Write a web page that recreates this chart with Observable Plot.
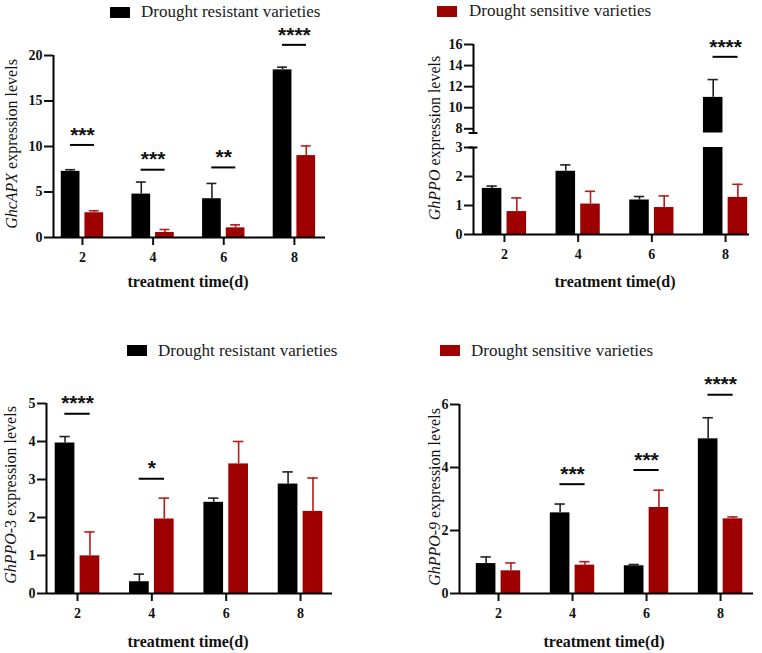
<!DOCTYPE html>
<html><head><meta charset="utf-8">
<script src="https://cdn.jsdelivr.net/npm/d3@7"></script>
<script src="https://cdn.jsdelivr.net/npm/@observablehq/plot@0.6"></script>
<style>
html,body{margin:0;padding:0;background:#fff;}
#root{position:relative;width:762px;height:653px;overflow:hidden;font-family:"Liberation Serif",serif;}
.panel{position:absolute;}
.panel svg{position:absolute;left:0;top:0;}
.legend{position:absolute;font-size:17px;color:#1a1a1a;white-space:nowrap;line-height:1;}
.sw{position:absolute;width:20px;height:11px;}
.panel svg g[aria-label^="x-axis"] line,.panel svg g[aria-label^="y-axis"] line,
.panel svg g[aria-label="x-axis tick"] path,.panel svg g[aria-label="y-axis tick"] path{stroke-width:2px;}
.panel svg g[aria-label^="x-axis"] text,.panel svg g[aria-label^="y-axis"] text{font-family:"Liberation Serif",serif !important;font-size:14px !important;font-weight:bold !important;fill:#111;}
</style></head>
<body><div id="root"></div>
<script>
const days = [2, 4, 6, 8];
const groups = ["Drought resistant varieties", "Drought sensitive varieties"];

// GhcAPX
const apxResistant = [7.27, 4.77, 4.26, 18.42];
const apxResistantErr = [0.18, 1.32, 1.68, 0.30];
const apxSensitive = [2.72, 0.55, 1.06, 9.0];
const apxSensitiveErr = [0.22, 0.33, 0.33, 1.06];
const apxSigDays = [2, 4, 6, 8];
const apxSigLevel = [10.17, 7.45, 7.7, 21.17];
const apxSigStars = ["***", "***", "**", "****"];

// GhPPO
const ppoResistant = [1.59, 2.18, 1.19, 10.98];
const ppoResistantErr = [0.08, 0.22, 0.12, 1.69];
const ppoSensitive = [0.79, 1.05, 0.93, 1.28];
const ppoSensitiveErr = [0.47, 0.44, 0.40, 0.45];
const ppoSigDays = [8];
const ppoSigLevel = [14.83];
const ppoSigStars = ["****"];

// GhPPO-3
const ppo3Resistant = [3.96, 0.31, 2.40, 2.88];
const ppo3ResistantErr = [0.17, 0.20, 0.11, 0.32];
const ppo3Sensitive = [0.99, 1.96, 3.41, 2.16];
const ppo3SensitiveErr = [0.63, 0.55, 0.59, 0.88];
const ppo3SigDays = [2, 4];
const ppo3SigLevel = [4.73, 3.02];
const ppo3SigStars = ["****", "*"];

// GhPPO-9
const ppo9Resistant = [0.95, 2.56, 0.88, 4.91];
const ppo9ResistantErr = [0.21, 0.28, 0.04, 0.67];
const ppo9Sensitive = [0.72, 0.90, 2.73, 2.37];
const ppo9SensitiveErr = [0.25, 0.11, 0.55, 0.06];
const ppo9SigDays = [4, 6, 8];
const ppo9SigLevel = [3.47, 3.92, 6.31];
const ppo9SigStars = ["***", "***", "****"];

const xTitle = "treatment time(d)";
const yTitleRest = " expression levels";

const COLORS = {res: "#000000", sen: "#9e0000"};
const ERRCOL = {res: "#222222", sen: "#b81c1c"};
const OFF = {res: [-0.6, -0.07], sen: [0.07, 0.6]};

const root = document.getElementById("root");

function drawPanel(c) {
  const rows = [];
  days.forEach((day, i) => {
    rows.push({day, g: "res", value: c.res[i], err: c.resErr[i]});
    rows.push({day, g: "sen", value: c.sen[i], err: c.senErr[i]});
  });
  const sig = c.sigDays.map((d, i) => ({day: d, y: c.sigLevel[i], stars: c.sigStars[i]}));
  const center = d => d.day + (OFF[d.g][0] + OFF[d.g][1]) / 2;
  const xmin = c.xDomain[0];
  const wrap = document.createElement("div");
  wrap.className = "panel";
  wrap.style.left = c.left + "px"; wrap.style.top = c.top + "px";
  wrap.style.width = c.width + "px"; wrap.style.height = c.height + "px";
  root.appendChild(wrap);

  c.parts.forEach((p, pi) => {
    const [lo, hi] = p.domain;
    const last = pi === c.parts.length - 1;
    const inside = v => v >= lo && v <= hi;
    const marks = [];
    for (const g of ["res", "sen"]) {
      const segs = rows.filter(r => r.g === g && r.value > lo)
        .map(r => ({...r, y1: lo, y2: Math.min(r.value, hi)}));
      marks.push(Plot.rect(segs, {
        x1: d => d.day + OFF[g][0], x2: d => d.day + OFF[g][1], y1: "y1", y2: "y2", fill: COLORS[g]
      }));
      const eg = rows.filter(r => r.g === g && inside(r.value + r.err));
      marks.push(Plot.ruleX(eg, {x: center, y1: d => Math.max(d.value, lo), y2: d => d.value + d.err, stroke: ERRCOL[g], strokeWidth: 1.6}));
      marks.push(Plot.ruleY(eg, {y: d => d.value + d.err, x1: d => center(d) - 0.14, x2: d => center(d) + 0.14, stroke: ERRCOL[g], strokeWidth: 1.6}));
    }
    if (lo === 0) marks.push(Plot.ruleY([0], {y: d => d, stroke: "#000", strokeWidth: 2}));
    marks.push(Plot.ruleX([p.domain], {x: () => xmin, y1: d => d[0], y2: d => d[1], stroke: "#000", strokeWidth: 2}));
    if (p.caps) marks.push(Plot.ruleY(p.caps, {y: d => d, x1: () => xmin - 0.12, x2: () => xmin + 0.12, stroke: "#000", strokeWidth: 2}));
    const sp = sig.filter(s => s.y >= lo && (pi === 0 || s.y <= hi));
    marks.push(Plot.ruleY(sp, {y: "y", x1: d => d.day - 0.34, x2: d => d.day + 0.34, stroke: "#000", strokeWidth: 2}));
    marks.push(Plot.text(sp, {x: "day", y: "y", text: "stars", dy: -10, fontSize: 21, fontWeight: "bold", fontFamily: "Liberation Sans", fill: "#111"}));

    const svg = Plot.plot({
      width: c.width, height: c.height,
      marginLeft: c.ml, marginRight: c.mr, marginTop: p.top, marginBottom: c.height - p.bottom,
      x: last
        ? {type: "linear", domain: c.xDomain, ticks: days, tickSize: 8, tickPadding: 7, label: null, tickFormat: d => String(d)}
        : {type: "linear", domain: c.xDomain, axis: null},
      y: {domain: p.domain, ticks: p.ticks, tickSize: 9, tickPadding: 2, label: null, tickFormat: d => String(d)},
      style: {fontFamily: "Liberation Serif", fontSize: "14px", fontWeight: "bold", color: "#111", background: "transparent", overflow: "visible"},
      marks
    });
    if (last) {
      const s = d3.select(svg);
      const yl = s.append("text")
        .attr("transform", `translate(${c.ylx},${c.yly}) rotate(-90)`)
        .attr("text-anchor", "middle")
        .style("font-family", "Liberation Serif").style("font-size", "16px").style("font-weight", "normal").attr("fill", "#111");
      yl.append("tspan").style("font-style", "italic").text(c.gene);
      if (c.geneSuffix) yl.append("tspan").text(c.geneSuffix);
      yl.append("tspan").text(yTitleRest);
      s.append("text").attr("x", c.xlx).attr("y", c.xly).attr("text-anchor", "middle")
        .style("font-family", "Liberation Serif").style("font-size", "16px").style("font-weight", "bold").attr("fill", "#111")
        .text(xTitle);
    }
    wrap.appendChild(svg);
  });

  const lg = document.createElement("div");
  lg.className = "legend";
  lg.style.left = c.legend.x + "px"; lg.style.top = c.legend.y + "px";
  const sw = document.createElement("span");
  sw.className = "sw"; sw.style.left = "0px"; sw.style.top = c.legend.swTop + "px";
  sw.style.background = c.legend.color;
  const tx = document.createElement("span");
  tx.style.position = "absolute"; tx.style.left = c.legend.textDx + "px"; tx.style.top = "0px";
  tx.textContent = c.legend.text;
  lg.appendChild(sw); lg.appendChild(tx);
  root.appendChild(lg);
}

drawPanel({
  gene: "GhcAPX", res: apxResistant, resErr: apxResistantErr, sen: apxSensitive, senErr: apxSensitiveErr,
  sigDays: apxSigDays, sigLevel: apxSigLevel, sigStars: apxSigStars,
  left: 0, top: 0, width: 381, height: 300, ml: 53, mr: 56,
  xDomain: [1.18, 8.88],
  parts: [{domain: [0, 20], ticks: [0, 5, 10, 15, 20], top: 55, bottom: 237}],
  ylx: 17, yly: 144, xlx: 188, xly: 287,
  legend: {x: 110, y: 3, swTop: 4, textDx: 31, text: groups[0], color: COLORS.res}
});
drawPanel({
  gene: "GhPPO", res: ppoResistant, resErr: ppoResistantErr, sen: ppoSensitive, senErr: ppoSensitiveErr,
  sigDays: ppoSigDays, sigLevel: ppoSigLevel, sigStars: ppoSigStars,
  left: 381, top: 0, width: 381, height: 300, ml: 92, mr: 13,
  xDomain: [1.16, 8.65],
  parts: [
    {domain: [7.6, 16], ticks: [8, 10, 12, 14, 16], top: 44, bottom: 132.5, caps: [7.6]},
    {domain: [0, 3], ticks: [0, 1, 2, 3], top: 147, bottom: 234, caps: [3]}
  ],
  ylx: 59, yly: 138, xlx: 234, xly: 287,
  legend: {x: 437, y: 2, swTop: 4, textDx: 32, text: groups[1], color: COLORS.sen}
});
drawPanel({
  gene: "GhPPO", geneSuffix: "-3", res: ppo3Resistant, resErr: ppo3ResistantErr, sen: ppo3Sensitive, senErr: ppo3SensitiveErr,
  sigDays: ppo3SigDays, sigLevel: ppo3SigLevel, sigStars: ppo3SigStars,
  left: 0, top: 300, width: 381, height: 353, ml: 46, mr: 49,
  xDomain: [1.166, 8.86],
  parts: [{domain: [0, 5], ticks: [0, 1, 2, 3, 4, 5], top: 103, bottom: 293}],
  ylx: 16, yly: 195, xlx: 188, xly: 347,
  legend: {x: 127, y: 342, swTop: 3, textDx: 31, text: groups[0], color: COLORS.res}
});
drawPanel({
  gene: "GhPPO-9", res: ppo9Resistant, resErr: ppo9ResistantErr, sen: ppo9Sensitive, senErr: ppo9SensitiveErr,
  sigDays: ppo9SigDays, sigLevel: ppo9SigLevel, sigStars: ppo9SigStars,
  left: 381, top: 300, width: 381, height: 353, ml: 78, mr: 9,
  xDomain: [0.946, 8.89],
  parts: [{domain: [0, 6], ticks: [0, 2, 4, 6], top: 104, bottom: 293}],
  ylx: 59, yly: 197, xlx: 223, xly: 347,
  legend: {x: 440, y: 342, swTop: 3, textDx: 31, text: groups[1], color: COLORS.sen}
});
</script></body></html>
